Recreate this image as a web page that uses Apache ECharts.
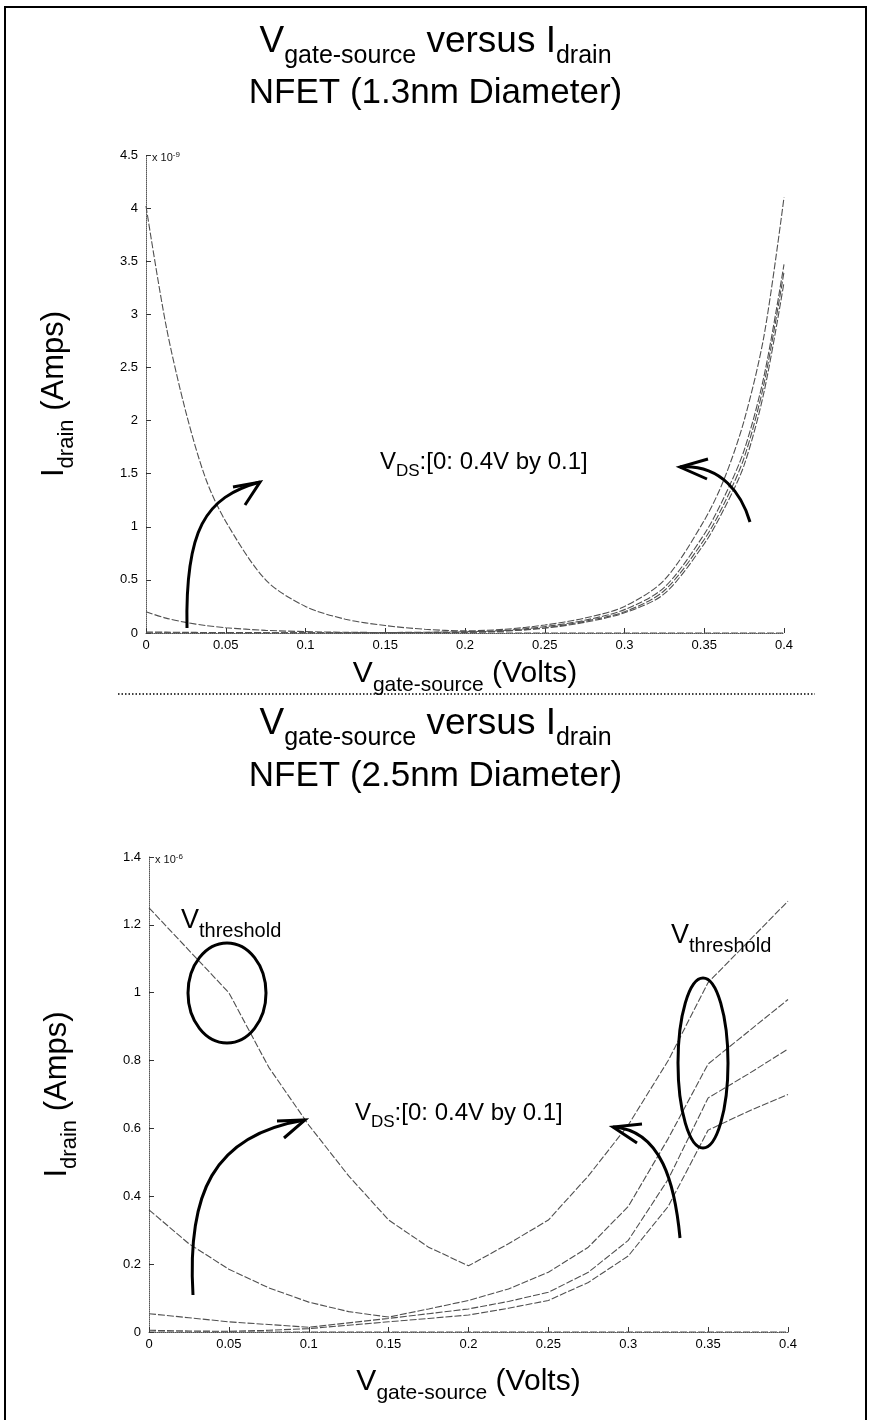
<!DOCTYPE html>
<html><head><meta charset="utf-8">
<script src="https://cdn.jsdelivr.net/npm/echarts@6/dist/echarts.min.js"></script>
<style>html,body{margin:0;padding:0;background:#fff}#c{width:871px;height:1420px}</style>
</head><body><div id="c"></div>
<script>
// ---------- DATA ----------
// Top chart (1.3 nm), current in units of 1e-9 A
const vgsTop = [0, 0.0125, 0.025, 0.0375, 0.05, 0.075, 0.1, 0.125, 0.15, 0.175, 0.2, 0.225, 0.25, 0.275, 0.3, 0.325, 0.35, 0.3625, 0.375, 0.3875, 0.4];
const topVds04 = [4.02, 2.9, 2.08, 1.45, 1.05, 0.5, 0.25, 0.13, 0.07, 0.035, 0.02, 0.035, 0.075, 0.14, 0.25, 0.5, 1.06, 1.45, 2.0, 2.8, 4.1];
const topVds03 = [0.2, 0.14, 0.1, 0.07, 0.05, 0.025, 0.013, 0.007, 0.005, 0.007, 0.012, 0.025, 0.06, 0.12, 0.22, 0.43, 0.93, 1.28, 1.72, 2.42, 3.47];
const topVds02 = [0.01, 0.008, 0.006, 0.005, 0.004, 0.003, 0.002, 0.002, 0.003, 0.005, 0.01, 0.02, 0.05, 0.11, 0.2, 0.4, 0.88, 1.22, 1.65, 2.35, 3.4];
const topVds01 = [0, 0, 0, 0, 0, 0, 0, 0, 0.001, 0.003, 0.006, 0.018, 0.045, 0.1, 0.19, 0.37, 0.84, 1.17, 1.58, 2.27, 3.3];
const topVds00 = [0, 0, 0, 0, 0, 0, 0, 0, 0, 0, 0, 0, 0, 0, 0, 0, 0, 0, 0, 0, 0];

// Bottom chart (2.5 nm), current in units of 1e-6 A
const vgsBot = [0, 0.025, 0.05, 0.075, 0.1, 0.125, 0.15, 0.175, 0.2, 0.225, 0.25, 0.275, 0.3, 0.325, 0.35, 0.375, 0.4];
const botVds04 = [1.25, 1.125, 1.0, 0.78, 0.61, 0.46, 0.33, 0.25, 0.195, 0.26, 0.33, 0.46, 0.61, 0.8, 1.03, 1.15, 1.27];
const botVds03 = [0.36, 0.26, 0.185, 0.13, 0.088, 0.06, 0.044, 0.068, 0.093, 0.127, 0.176, 0.25, 0.37, 0.57, 0.79, 0.885, 0.98];
const botVds02 = [0.054, 0.042, 0.03, 0.022, 0.014, 0.027, 0.04, 0.054, 0.068, 0.09, 0.117, 0.176, 0.27, 0.45, 0.69, 0.76, 0.834];
const botVds01 = [0.005, 0.003, 0.002, 0.005, 0.01, 0.02, 0.03, 0.04, 0.05, 0.07, 0.093, 0.146, 0.224, 0.37, 0.595, 0.65, 0.70];
const botVds00 = [0, 0, 0, 0, 0, 0, 0, 0, 0, 0, 0, 0, 0, 0, 0, 0, 0];

// Texts
const titleLine1 = ['V', 'gate-source', ' versus I', 'drain'];
const titleTop2 = 'NFET (1.3nm Diameter)';
const titleBot2 = 'NFET (2.5nm Diameter)';
const vdsLabel = ['V', 'DS', ':[0: 0.4V by 0.1]'];
const vthLabel = ['V', 'threshold'];
const xName = ['V', 'gate-source', ' (Volts)'];
const yName = ['I', 'drain', ' (Amps)'];

// ---------- CHART ----------
const F = 'Liberation Sans, Arial, Helvetica, sans-serif';
const chart = echarts.init(document.getElementById('c'));
const pair = (xs, ys) => xs.map((x, i) => [x, ys[i]]);
const lineCol = '#505050';

function mkSeries(xs, ys, idx, smooth) {
  return {
    type: 'line', xAxisIndex: idx, yAxisIndex: idx, data: pair(xs, ys),
    showSymbol: false, smooth: smooth, silent: true,
    lineStyle: { color: lineCol, width: 1.1, type: [7, 2] }
  };
}

function subRich(main, sub, pad) {
  return {
    m: { fontFamily: F, fontSize: main, fontWeight: 'normal', color: '#000', verticalAlign: 'bottom', lineHeight: main + 2, padding: [0, 0, pad, 0] },
    s: { fontFamily: F, fontSize: sub, fontWeight: 'normal', color: '#000', verticalAlign: 'bottom', lineHeight: sub + 2 }
  };
}

function xAxisCfg(grid, gap) {
  return {
    type: 'value', gridIndex: grid, min: 0, max: 0.4, interval: 0.05,
    axisLine: { show: true, lineStyle: { color: '#555', type: 'dotted', width: 1 } },
    axisTick: { show: true, inside: true, length: 5, lineStyle: { color: '#333' } },
    axisLabel: { fontFamily: F, fontSize: 13, color: '#000', margin: 6 },
    splitLine: { show: false },
    name: '{m|' + xName[0] + '}{s|' + xName[1] + '}{m|' + xName[2] + '}',
    nameLocation: 'middle', nameGap: gap,
    nameTextStyle: { rich: subRich(30, 21, 7) }
  };
}
function yAxisCfg(grid, max, interval) {
  return {
    type: 'value', gridIndex: grid, min: 0, max: max, interval: interval,
    axisLine: { show: true, lineStyle: { color: '#555', type: 'dotted', width: 1 } },
    axisTick: { show: true, inside: true, length: 5, lineStyle: { color: '#333' } },
    axisLabel: { fontFamily: F, fontSize: 13, color: '#000', margin: 8 },
    splitLine: { show: false },
    name: '{m|' + yName[0] + '}{s|' + yName[1] + '}{m|' + yName[2] + '}',
    nameLocation: 'middle', nameGap: 68, nameRotate: 90,
    nameTextStyle: { rich: subRich(31, 22, 8) }
  };
}

const titleRich = subRich(37, 25, 9);
const t1 = '{m|' + titleLine1[0] + '}{s|' + titleLine1[1] + '}{m|' + titleLine1[2] + '}{s|' + titleLine1[3] + '}';
const supStyle = { fontFamily: F, fontSize: 11, fontWeight: 'normal', color: '#111', rich: { sup: { fontFamily: F, fontSize: 8, fontWeight: 'normal', verticalAlign: 'top', padding: [0, 0, 6, 0] } } };

const option = {
  animation: false,
  backgroundColor: '#fff',
  title: [
    { text: t1, left: 'center', top: 25, textStyle: { rich: titleRich } },
    { text: titleTop2, left: 'center', top: 71, textStyle: { fontFamily: F, fontSize: 35, fontWeight: 'normal', color: '#000' } },
    { text: t1, left: 'center', top: 707, textStyle: { rich: titleRich } },
    { text: titleBot2, left: 'center', top: 754, textStyle: { fontFamily: F, fontSize: 35, fontWeight: 'normal', color: '#000' } },
    { text: 'x 10{sup|-9}', left: 147, top: 146, textStyle: supStyle },
    { text: 'x 10{sup|-6}', left: 150, top: 848, textStyle: supStyle }
  ],
  grid: [
    { left: 146, right: 87, top: 155, height: 478 },
    { left: 149, right: 83, top: 857, height: 475 }
  ],
  xAxis: [xAxisCfg(0, 31), xAxisCfg(1, 40)],
  yAxis: [yAxisCfg(0, 4.5, 0.5), yAxisCfg(1, 1.4, 0.2)],
  series: [
    mkSeries(vgsTop, topVds04, 0, 0.3),
    mkSeries(vgsTop, topVds03, 0, 0.3),
    mkSeries(vgsTop, topVds02, 0, 0.3),
    mkSeries(vgsTop, topVds01, 0, 0.3),
    mkSeries(vgsTop, topVds00, 0, false),
    mkSeries(vgsBot, botVds04, 1, false),
    mkSeries(vgsBot, botVds03, 1, false),
    mkSeries(vgsBot, botVds02, 1, false),
    mkSeries(vgsBot, botVds01, 1, false),
    mkSeries(vgsBot, botVds00, 1, false)
  ]
};
chart.setOption(option);

// ---------- ANNOTATIONS (decorations) ----------
const ink = { stroke: '#000', lineWidth: 3, fill: null };
function arrow(p0, c1, c2, p3, a1, a2) {
  return [
    { type: 'bezierCurve', shape: { x1: p0[0], y1: p0[1], cpx1: c1[0], cpy1: c1[1], cpx2: c2[0], cpy2: c2[1], x2: p3[0], y2: p3[1] }, style: ink, z: 100 },
    { type: 'polyline', shape: { points: [a1, p3, a2] }, style: ink, z: 100 }
  ];
}
function richLabel(parts, x, y, main, sub, pad) {
  let t = '{m|' + parts[0] + '}{s|' + parts[1] + '}';
  if (parts[2]) t += '{m|' + parts[2] + '}';
  return { type: 'text', x: x, y: y, z: 100, style: { text: t, rich: subRich(main, sub, pad), align: 'left', verticalAlign: 'top' } };
}
const g = [];
g.push(...arrow([187, 628], [185, 530], [205, 497], [260, 482], [233, 487], [245, 505]));
g.push(...arrow([750, 522], [742, 495], [722, 464], [680, 467], [708, 459], [707, 479]));
g.push(...arrow([193, 1295], [187, 1195], [212, 1135], [305, 1120], [277, 1121], [284, 1138]));
g.push(...arrow([680, 1238], [675, 1185], [662, 1130], [613, 1127], [642, 1124], [637, 1143]));
g.push({ type: 'ellipse', shape: { cx: 227, cy: 993, rx: 39, ry: 50 }, style: ink, z: 100 });
g.push({ type: 'ellipse', shape: { cx: 703, cy: 1063, rx: 25, ry: 85 }, style: ink, z: 100 });
g.push(richLabel(vdsLabel, 380, 454, 24, 17, 6));
g.push(richLabel(vdsLabel, 355, 1105, 24, 17, 6));
g.push(richLabel(vthLabel, 181, 912, 27, 20, 7));
g.push(richLabel(vthLabel, 671, 927, 27, 20, 7));
// separator and frame
g.push({ type: 'line', shape: { x1: 118, y1: 694, x2: 815, y2: 694 }, style: { stroke: '#000', lineWidth: 1.5, lineDash: [1.5, 2] } });
g.push({ type: 'rect', shape: { x: 5, y: 7, width: 861, height: 1430 }, style: { stroke: '#000', lineWidth: 2, fill: null } });
chart.setOption({ graphic: g });
</script>
</body></html>
